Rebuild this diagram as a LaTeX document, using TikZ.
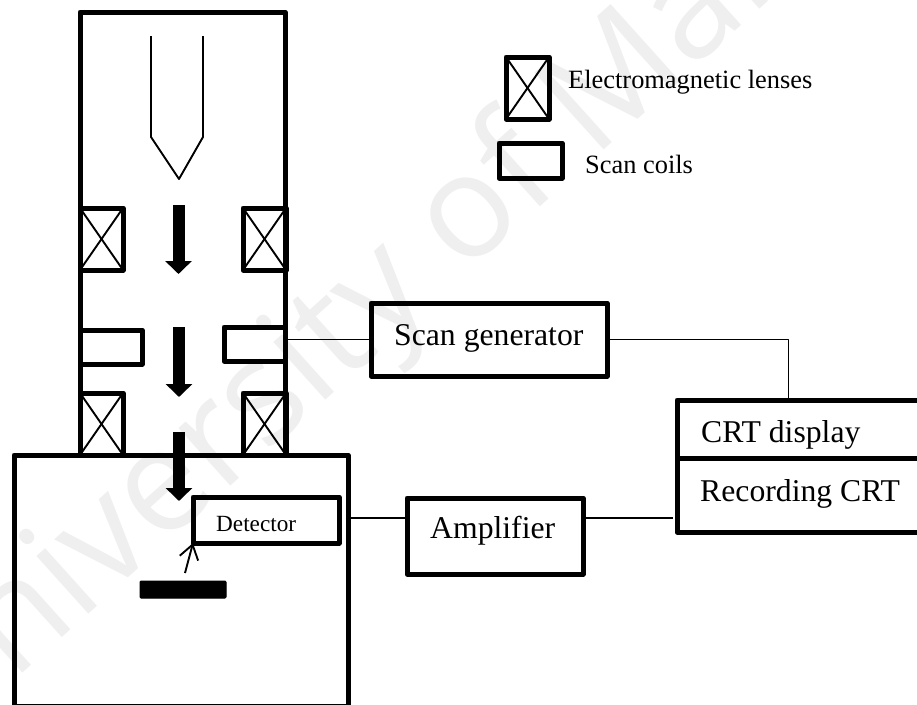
\documentclass[tikz,border=0pt]{standalone}
\usepackage{fontspec}
\setmainfont{Liberation Serif}
\newfontfamily\stampfont{Open Sans}
\usetikzlibrary{arrows.meta,positioning}
\usepackage{xcolor}
\definecolor{stampgray}{HTML}{EFEFEF}

\begin{document}
\begin{tikzpicture}[
  x=1pt,
  y=-1pt,
  line join=round,
  box/.style={draw, line width=5pt, inner sep=0pt, outer sep=0pt, anchor=north west},
  lens/.style={box, minimum width=43pt, minimum height=62pt},
  coil/.style={box, minimum width=62pt, minimum height=34pt},
  wire/.style={line width=1.9pt},
  beam/.style={line width=12pt, -{Triangle[length=13pt,width=26pt]}},
  big/.style={inner sep=0pt, anchor=base west, font=\fontsize{31.7}{36}\selectfont},
  mid/.style={inner sep=0pt, anchor=base west, font=\fontsize{26.4}{30}\selectfont},
  small/.style={inner sep=0pt, anchor=base west, font=\fontsize{23.2}{27}\selectfont}
]
\useasboundingbox (0,0) rectangle (917,704);
\node[text=stampgray, font=\stampfont\fontsize{145}{165}\selectfont, rotate=42, inner sep=0pt] (stamp) at (418,266) {University of Malaya};

\node[box, minimum width=205pt, minimum height=443pt] (column) at (80,12) {};
\node[box, minimum width=334pt, minimum height=251pt] (chamber) at (14,455) {};

\node[lens] (lensa) at (80,208) {};
\node[lens] (lensb) at (243,208) {};
\node[lens] (lensc) at (80,393) {};
\node[lens] (lensd) at (243,393) {};
\node[coil] (coila) at (80,330) {};
\node[coil, minimum width=61pt] (coilb) at (224,327) {};

\node[lens] (lenskey) at (506,57) {};
\node[coil, minimum width=63pt, minimum height=35pt] (coilkey) at (499,143) {};
\node[mid] (lenstext) at (568,88) {Electromagnetic lenses};
\node[mid] (coiltext) at (585,173) {Scan coils};

\foreach \lensname in {lensa,lensb,lensc,lensd,lenskey} {
  \draw[wire] (\lensname.north west) -- (\lensname.south east);
  \draw[wire] (\lensname.north east) -- (\lensname.south west);
}

\coordinate (gunleft) at (151,36);
\coordinate (gunright) at (203,36);
\draw[wire] (gunleft) -- (151,137) -- (179,179) -- (203,137) -- (gunright);

\coordinate (beamatop) at (178.5,205);
\coordinate (beamaend) at (178.5,274);
\coordinate (beambtop) at (179,327);
\coordinate (beambend) at (179,397);
\coordinate (beamctop) at (179,432);
\coordinate (beamcend) at (179,501);
\draw[beam] (beamatop) -- (beamaend);
\draw[beam] (beambtop) -- (beambend);
\draw[beam] (beamctop) -- (beamcend);

\node[box, minimum width=146pt, minimum height=46pt] (detector) at (193,497) {};
\node[small] (detectortext) at (216,531) {Detector};
\node[draw, fill=black, line width=1pt, rounded corners=1pt, minimum width=86pt, minimum height=17pt, inner sep=0pt, anchor=north west] (specimen) at (139.5,580.5) {};
\coordinate (signalstart) at (185,573);
\draw[wire, -{Straight Barb[length=14pt,width=19pt]}] (signalstart) -- (detector.south west);

\node[box, minimum width=236pt, minimum height=73pt] (scangen) at (371,303) {};
\node[big] (scantext) at (394,345) {Scan generator};
\node[box, minimum width=176pt, minimum height=76pt] (amplifier) at (407,498) {};
\node[big] (amptext) at (430,538) {Amplifier};
\node[box, minimum width=260pt, minimum height=58pt] (display) at (677,400) {};
\node[big] (displaytext) at (701,442) {CRT display};
\node[box, minimum width=260pt, minimum height=74pt] (recorder) at (677,458) {};
\node[big] (recordertext) at (700,501) {Recording CRT};

\draw[wire] (coilb.east |- scangen.west) -- (scangen.west);
\draw[wire] (scangen.east) -| (788.5,400);
\coordinate (ampline) at (407,518);
\draw[wire] (chamber.east |- ampline) -- (ampline);
\coordinate (crtline) at (673,518);
\draw[wire] (amplifier.east |- ampline) -- (crtline);
\end{tikzpicture}
\end{document}
